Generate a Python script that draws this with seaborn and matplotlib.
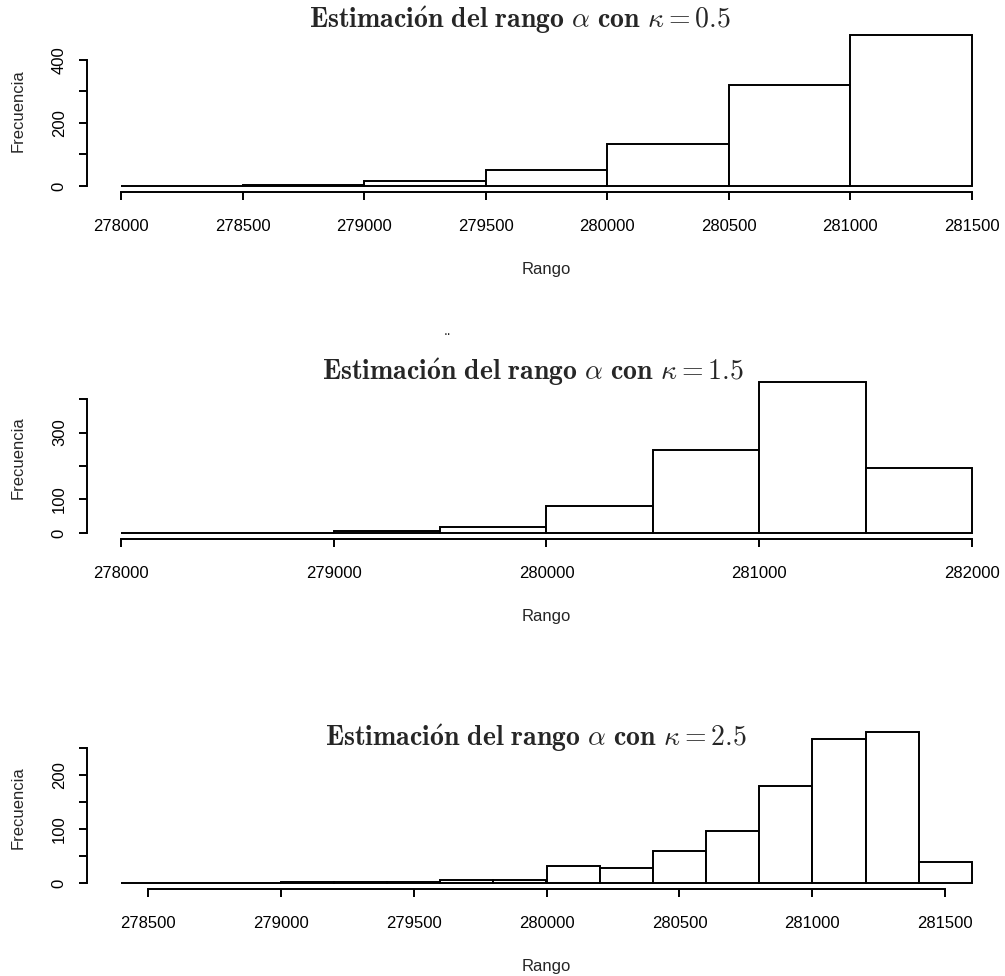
import numpy as np
import pandas as pd
import matplotlib
matplotlib.use("Agg")
import matplotlib.pyplot as plt
import seaborn as sns

sns.set_style("white")
plt.rcParams["font.family"] = ["Liberation Sans", "DejaVu Sans"]
plt.rcParams["mathtext.fontset"] = "cm"

# histogram data (bin edges + counts)
edges_05 = [278000, 278500, 279000, 279500, 280000, 280500, 281000, 281500]
counts_05 = [1, 2, 16, 51, 132, 320, 478]

edges_15 = [278000, 278500, 279000, 279500, 280000, 280500, 281000, 281500, 282000]
counts_15 = [1, 0, 6, 19, 82, 247, 451, 194]

edges_25 = [278400, 278600, 278800, 279000, 279200, 279400, 279600, 279800, 280000,
            280200, 280400, 280600, 280800, 281000, 281200, 281400, 281600]
counts_25 = [0, 0, 0, 2, 1, 2, 6, 6, 31, 27, 60, 96, 180, 268, 280, 38]

kappas = ["0.5", "1.5", "2.5"]

xticks_05 = [278000, 278500, 279000, 279500, 280000, 280500, 281000, 281500]
xticks_15 = [278000, 279000, 280000, 281000, 282000]
xticks_25 = [278500, 279000, 279500, 280000, 280500, 281000, 281500]

yticks_05 = [0, 100, 200, 300, 400]
ylabels_05 = ["0", "", "200", "", "400"]
yticks_15 = [0, 100, 200, 300, 400]
ylabels_15 = ["0", "100", "", "300", ""]
yticks_25 = [0, 50, 100, 150, 200, 250]
ylabels_25 = ["0", "", "100", "", "200", ""]

W, H = 1005, 976
fig = plt.figure(figsize=(W / 100, H / 100), dpi=100)

panels = [
    (edges_05, counts_05, xticks_05, yticks_05, ylabels_05, 192, 520, 20),
    (edges_15, counts_15, xticks_15, yticks_15, ylabels_15, 539, 533, 372),
    (edges_25, counts_25, xticks_25, yticks_25, ylabels_25, 889, 536, 738),
]

left_px, right_px, height_px = 87, 1006, 163

for (edges, counts, xt, yt, yl, bottom_px, title_x, title_y), k in zip(panels, kappas):
    ax = fig.add_axes([left_px / W, 1 - bottom_px / H, (right_px - left_px) / W, height_px / H])
    centers = [(a + b) / 2 for a, b in zip(edges[:-1], edges[1:])]
    df = pd.DataFrame({"rango": centers, "n": counts})
    sns.histplot(data=df, x="rango", weights="n", bins=list(edges), ax=ax, color="white",
                 edgecolor="black", linewidth=1.4, alpha=1)

    xr = edges[-1] - edges[0]
    ax.set_xlim(edges[0] - 0.04 * xr, edges[-1] + 0.04 * xr)
    ym = max(counts)
    ax.set_ylim(-0.04 * ym, 1.04 * ym)

    for s in ["top", "right"]:
        ax.spines[s].set_visible(False)
    ax.spines["left"].set_bounds(yt[0], yt[-1])
    ax.spines["bottom"].set_bounds(xt[0], xt[-1])
    for s in ["left", "bottom"]:
        ax.spines[s].set_linewidth(1.4)
        ax.spines[s].set_color("black")

    ax.set_xticks(xt)
    ax.set_xticklabels([str(v) for v in xt])
    ax.set_yticks(yt)
    ax.set_yticklabels(yl, rotation=90, va="center")
    ax.tick_params(axis="both", direction="out", length=5.5, width=1.4, color="black",
                   labelsize=12, labelcolor="black")
    ax.tick_params(axis="x", pad=14, bottom=True)
    ax.tick_params(axis="y", pad=9, left=True)

    ax.set_xlabel("Rango", fontsize=12, labelpad=20)
    ax.set_ylabel("Frecuencia", fontsize=12)
    ax.yaxis.set_label_coords((26 - left_px) / (right_px - left_px), 0.5)

    fig.text(title_x / W, 1 - title_y / H,
             r"$\mathbf{Estimaci\acute{o}n\ del\ rango}\ \alpha\ \mathbf{con}\ \kappa = " + k + "$",
             ha="center", va="center", fontsize=20)

fig.text(447 / W, 1 - 331 / H, "..", ha="center", va="center", fontsize=10)

fig.savefig("out.png", dpi=100)
